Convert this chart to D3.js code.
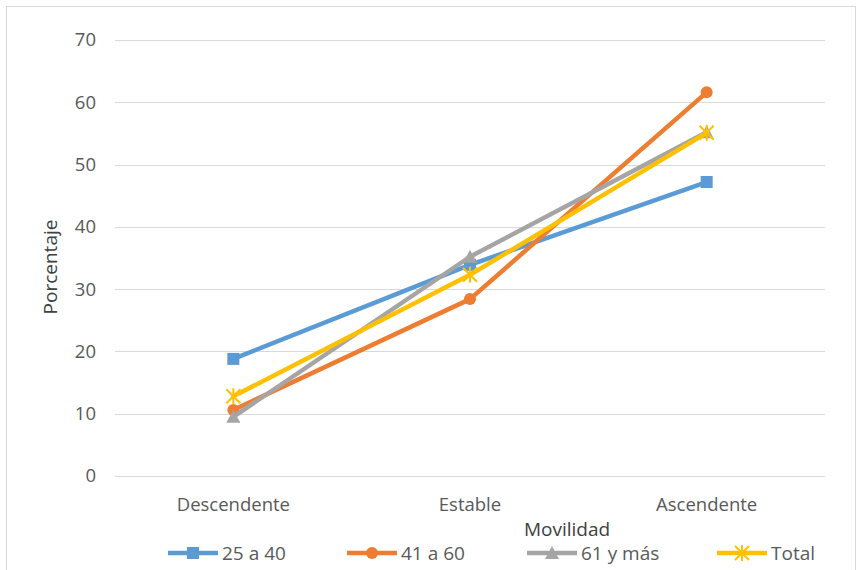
<!DOCTYPE html>
<html>
<head>
<meta charset="utf-8">
<script src="https://cdn.jsdelivr.net/npm/d3@7"></script>
<style>
  body { margin: 0; background: #fff; }
  svg { display: block; }
  text { font-family: "Open Sans", "Noto Sans", sans-serif; }
</style>
</head>
<body>
<svg id="chart" width="862" height="570"></svg>
<script>
const categories = ["Descendente", "Estable", "Ascendente"];
const seriesNames = ["25 a 40", "41 a 60", "61 y más", "Total"];
const values2540 = [18.8, 33.9, 47.2];
const values4160 = [10.6, 28.4, 61.6];
const values61 = [9.5, 35.2, 55.2];
const valuesTotal = [12.8, 32.3, 55.1];
const yTicks = [0, 10, 20, 30, 40, 50, 60, 70];

const series = [
  { name: seriesNames[0], values: values2540, color: "#5B9BD5", marker: "square" },
  { name: seriesNames[1], values: values4160, color: "#ED7D31", marker: "circle" },
  { name: seriesNames[2], values: values61, color: "#A5A5A5", marker: "triangle" },
  { name: seriesNames[3], values: valuesTotal, color: "#FFC000", marker: "star" }
];

const svg = d3.select("#chart");

// outer chart frame
svg.append("rect").attr("x", 6.5).attr("y", 6.5).attr("width", 849).attr("height", 600)
  .attr("fill", "#fff").attr("stroke", "#d9d9d9").attr("stroke-width", 1);

const plot = { left: 115, right: 825, top: 40, bottom: 476 };

const x = d3.scaleBand().domain(categories).range([plot.left, plot.right]);
const y = d3.scaleLinear().domain([0, 70]).range([plot.bottom, plot.top]);

// gridlines
svg.append("g").selectAll("line").data(yTicks).join("line")
  .attr("x1", plot.left).attr("x2", plot.right)
  .attr("y1", d => Math.round(y(d)) + 0.5).attr("y2", d => Math.round(y(d)) + 0.5)
  .attr("stroke", "#d9d9d9").attr("stroke-width", 1);

// y axis labels
const yAxis = d3.axisLeft(y).tickValues(yTicks).tickSize(0).tickPadding(19);
const gy = svg.append("g").attr("transform", `translate(${plot.left},0)`).call(yAxis);
gy.select(".domain").remove();
gy.selectAll("text").attr("font-size", 18.5).attr("fill", "#595959")
  .style("font-family", "'Open Sans', sans-serif");

// x axis labels
const xAxis = d3.axisBottom(x).tickSize(0).tickPadding(22);
const gx = svg.append("g").attr("transform", `translate(0,${plot.bottom})`).call(xAxis);
gx.select(".domain").remove();
gx.selectAll("text").attr("font-size", 18.5).attr("fill", "#595959")
  .style("font-family", "'Open Sans', sans-serif");

// axis titles
svg.append("text").attr("x", 567).attr("y", 536).attr("text-anchor", "middle")
  .attr("font-size", 19).attr("fill", "#404040").text("Movilidad");
svg.append("text").attr("transform", "translate(57,267) rotate(-90)")
  .attr("text-anchor", "middle").attr("font-size", 19).attr("fill", "#404040").text("Porcentaje");

const cx = c => x(c) + x.bandwidth() / 2;

function drawMarker(g, type, color, px, py, s) {
  if (type === "square") {
    g.append("rect").attr("x", px - s / 2).attr("y", py - s / 2).attr("width", s).attr("height", s).attr("fill", color);
  } else if (type === "circle") {
    g.append("circle").attr("cx", px).attr("cy", py).attr("r", s / 2).attr("fill", color);
  } else if (type === "triangle") {
    const h = s;
    g.append("path").attr("d", `M${px},${py - h / 2 - 1}L${px + s / 2 + 1},${py + h / 2}L${px - s / 2 - 1},${py + h / 2}Z`).attr("fill", color);
  } else if (type === "star") {
    const r = s / 2;
    g.append("path")
      .attr("d", `M${px - r},${py - r}L${px + r},${py + r}M${px - r},${py + r}L${px + r},${py - r}M${px},${py - r - 1}L${px},${py + r + 1}`)
      .attr("stroke", color).attr("stroke-width", 2).attr("fill", "none");
  }
}

const line = d3.line().x((d, i) => cx(categories[i])).y(d => y(d));

series.forEach(s => {
  const g = svg.append("g");
  g.append("path").datum(s.values).attr("d", line)
    .attr("fill", "none").attr("stroke", s.color).attr("stroke-width", 4.5)
    .attr("stroke-linejoin", "round").attr("stroke-linecap", "round");
  s.values.forEach((v, i) => drawMarker(g, s.marker, s.color, cx(categories[i]), y(v), s.marker === "star" ? 14 : 12));
});

// legend
const legendX = [168, 347, 527, 717];
const legendY = 553;
series.forEach((s, i) => {
  const g = svg.append("g");
  g.append("line").attr("x1", legendX[i]).attr("x2", legendX[i] + 50)
    .attr("y1", legendY).attr("y2", legendY)
    .attr("stroke", s.color).attr("stroke-width", 4.5);
  drawMarker(g, s.marker, s.color, legendX[i] + 25, legendY, s.marker === "star" ? 14 : 12);
  g.append("text").attr("x", legendX[i] + 54).attr("y", legendY + 7)
    .attr("font-size", 19).attr("fill", "#595959").text(s.name);
});
</script>
</body>
</html>
